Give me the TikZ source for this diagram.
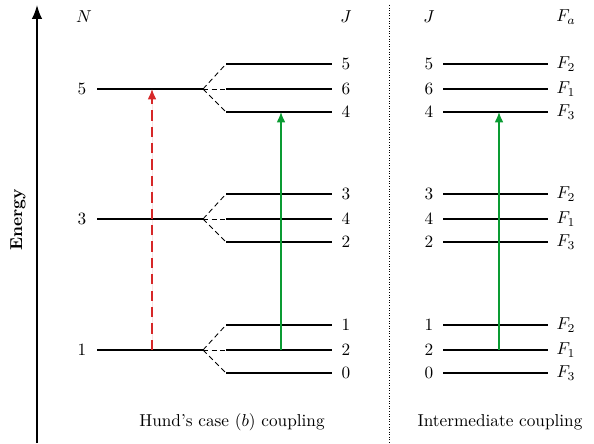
\documentclass[tikz,border=0pt]{standalone}
\usetikzlibrary{arrows.meta}
\definecolor{myred}{RGB}{214,39,40}
\definecolor{mygreen}{RGB}{10,155,50}
\begin{document}
\begin{tikzpicture}[x=0.58pt,y=-0.58pt,
  level/.style={line width=0.9pt},
  split/.style={line width=0.5pt,dash pattern=on 3pt off 2pt},
  lab/.style={inner sep=0pt,anchor=center},
  trans/.style={-{Latex[length=6pt,width=5pt]},line width=0.7pt}]
\useasboundingbox (0,0) rectangle (594,443);
% energy axis
\coordinate (ebot) at (37,443);
\coordinate (etop) at (37,5);
\draw[-{Latex[length=8pt,width=6pt]},line width=0.9pt] (ebot) -- (etop);
\node[rotate=90,font=\bfseries] (energy) at (18,220) {Energy};
% separator
\coordinate (sepT) at (389,5);
\coordinate (sepB) at (389,443);
\draw[densely dotted,line width=0.5pt] (sepT) -- (sepB);
% headers
\node[lab] (hN) at (84,17) {$N$};
\node[lab] (hJ1) at (346,17) {$J$};
\node[lab] (hJ2) at (429,17) {$J$};
\node[lab] (hF) at (566,17) {$F_a$};
% N levels
\foreach \n/\y in {5/89,3/219,1/350}{
  \node[lab] (N\n) at (82,\y) {\n};
  \coordinate (NL\n) at (97,\y);
  \coordinate (NR\n) at (203,\y);
  \draw[level] (NL\n) -- (NR\n);
}
% split levels case b
\foreach \n/\ja/\jb/\jc in {5/5/6/4,3/3/4/2,1/1/2/0}{
  \path (NR\n) ++(23,-25) coordinate (Ua\n) ++(106,0) coordinate (Ub\n);
  \path (NR\n) ++(23,0) coordinate (Ma\n) ++(106,0) coordinate (Mb\n);
  \path (NR\n) ++(23,23) coordinate (La\n) ++(106,0) coordinate (Lb\n);
  \draw[split] (NR\n) -- (Ua\n);
  \draw[split] (NR\n) -- (Ma\n);
  \draw[split] (NR\n) -- (La\n);
  \draw[level] (Ua\n) -- (Ub\n);
  \draw[level] (Ma\n) -- (Mb\n);
  \draw[level] (La\n) -- (Lb\n);
  \node[lab] (JUa\n) at ([xshift=8.1pt]Ub\n) {\ja};
  \node[lab] (JMa\n) at ([xshift=8.1pt]Mb\n) {\jb};
  \node[lab] (JLa\n) at ([xshift=8.1pt]Lb\n) {\jc};
}
% intermediate coupling
\foreach \n/\ja/\jb/\jc/\y in {5/5/6/4/89,3/3/4/2/219,1/1/2/0/350}{
  \coordinate (IUa\n) at (443,\y-25);
  \coordinate (IUb\n) at (548,\y-25);
  \coordinate (IMa\n) at (443,\y);
  \coordinate (IMb\n) at (548,\y);
  \coordinate (ILa\n) at (443,\y+23);
  \coordinate (ILb\n) at (548,\y+23);
  \draw[level] (IUa\n) -- (IUb\n);
  \draw[level] (IMa\n) -- (IMb\n);
  \draw[level] (ILa\n) -- (ILb\n);
  \node[lab] (IJU\n) at (429,\y-25) {\ja};
  \node[lab] (IJM\n) at (429,\y) {\jb};
  \node[lab] (IJL\n) at (429,\y+23) {\jc};
  \node[lab] (IFU\n) at (566,\y-25) {$F_2$};
  \node[lab] (IFM\n) at (566,\y) {$F_1$};
  \node[lab] (IFL\n) at (566,\y+23) {$F_3$};
}
% transitions
\coordinate (r1) at (152,350);
\coordinate (r2) at (152,89);
\draw[trans,draw=myred,fill=myred,dash pattern=on 6pt off 3.5pt] (r1) -- (r2);
\coordinate (g1) at (281,350);
\coordinate (g2) at (281,112);
\draw[trans,draw=mygreen,fill=mygreen] (g1) -- (g2);
\coordinate (h1) at (499,350);
\coordinate (h2) at (499,112);
\draw[trans,draw=mygreen,fill=mygreen] (h1) -- (h2);
% bottom labels
\node (capB) at (232,422) {Hund's case $(b)$ coupling};
\node (capI) at (500,422) {Intermediate coupling};
\end{tikzpicture}
\end{document}
